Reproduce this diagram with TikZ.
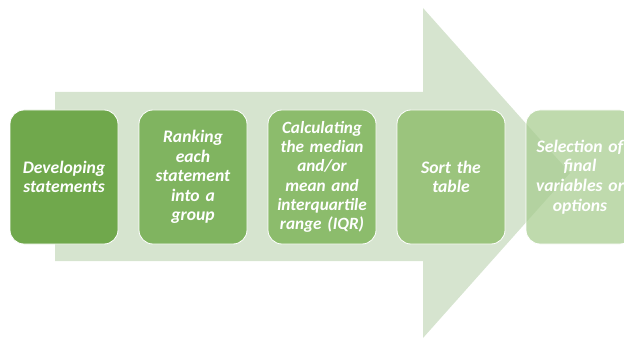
\documentclass[tikz,border=0pt]{standalone}
\usepackage{fontspec}
\setmainfont{Carlito}
\definecolor{shaft}{RGB}{214,228,207}
\definecolor{g1}{RGB}{112,168,76}
\definecolor{g2}{RGB}{128,180,96}
\definecolor{g3}{RGB}{140,188,108}
\definecolor{g4}{RGB}{155,196,125}
\definecolor{g5}{RGB}{166,204,142}

\begin{document}
\begin{tikzpicture}[x=1pt, y=1pt,
  stage/.style={rectangle, rounded corners=14pt, draw=white, line width=0.8pt,
    minimum width=108pt, minimum height=134pt, inner sep=0pt, text width=106pt,
    align=center, text=white, font=\fontsize{17.6}{19.6}\selectfont\bfseries\itshape}]
\useasboundingbox (0,0) rectangle (624,338);
% big arrow behind the steps
\fill[shaft] (55,246) -- (423,246) -- (423,330) -- (570,165) -- (423,0) -- (423,77) -- (55,77) -- cycle;
\node (s1) at (64,161) [stage, fill=g1] {Developing\\statements};
\node (s2) at (193,161) [stage, fill=g2] {Ranking\\each\\statement\\into a\\group};
\node (s3) at (322,161) [stage, fill=g3, font=\fontsize{17.2}{19.3}\selectfont\bfseries\itshape] {Calculating\\the median\\and/or\\mean and\\interquartile\\range (IQR)};
\node (s4) at (451,161) [stage, fill=g4] {Sort the\\table};
\node (s5) at (580,161) [stage, fill=g5, fill opacity=0.72, text opacity=1] {Selection of\\final\\variables or\\options};
\end{tikzpicture}
\end{document}
